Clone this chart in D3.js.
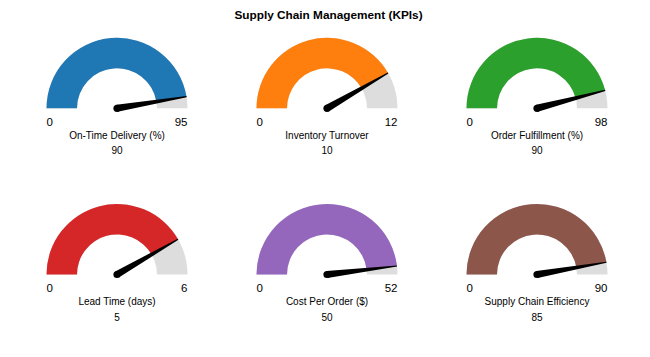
<!DOCTYPE html>
<html>
<head>
<meta charset="utf-8">
<script src="https://cdn.jsdelivr.net/npm/d3@7"></script>
<style>
  html, body { margin: 0; padding: 0; background: #fff; }
  svg { display: block; font-family: "Liberation Sans", Arial, sans-serif; }
</style>
</head>
<body>
<svg id="chart" width="650" height="357"></svg>
<script>
const kpiNames = ["On-Time Delivery (%)", "Inventory Turnover", "Order Fulfillment (%)",
                  "Lead Time (days)", "Cost Per Order ($)", "Supply Chain Efficiency"];
const kpiValues = [90, 10, 90, 5, 50, 85];
const kpiMax = [95, 12, 98, 6, 52, 90];
const kpiMin = [0, 0, 0, 0, 0, 0];

const svg = d3.select("#chart");
const color = d3.scaleOrdinal().domain(d3.range(6)).range(d3.schemeCategory10);

svg.append("text")
  .attr("x", 328.5).attr("y", 19)
  .attr("text-anchor", "middle")
  .attr("font-size", 11.8).attr("font-weight", "bold")
  .attr("fill", "#000")
  .text("Supply Chain Management (KPIs)");

const colX = d3.scalePoint().domain([0, 1, 2]).range([117, 537]);
const rowY = d3.scalePoint().domain([0, 1]).range([108.3, 274.5]);
const rOuter = 70.5, rInner = 40;

kpiNames.forEach((name, i) => {
  const cx = colX(i % 3), cy = rowY(Math.floor(i / 3));
  const ang = d3.scaleLinear().domain([kpiMin[i], kpiMax[i]]).range([-Math.PI / 2, Math.PI / 2]);
  const g = svg.append("g").attr("transform", `translate(${cx},${cy})`);
  const arc = d3.arc().innerRadius(rInner).outerRadius(rOuter);

  g.append("path")
    .attr("d", arc({ startAngle: ang(kpiMin[i]), endAngle: ang(kpiMax[i]) }))
    .attr("fill", "#dddddd");
  g.append("path")
    .attr("d", arc({ startAngle: ang(kpiMin[i]), endAngle: ang(kpiValues[i]) }))
    .attr("fill", color(i));

  // needle
  const a = ang(kpiValues[i]);
  const dx = Math.sin(a), dy = -Math.cos(a);
  const px = -dy, py = dx;
  const L = rOuter, bw = 3.6, tw = 0.6;
  const pts = [
    [px * bw, py * bw],
    [dx * L + px * tw, dy * L + py * tw],
    [dx * L - px * tw, dy * L - py * tw],
    [-px * bw, -py * bw]
  ];
  g.append("path").attr("d", d3.line()(pts) + "Z").attr("fill", "#000");
  g.append("circle").attr("r", bw).attr("fill", "#000");

  g.append("text").attr("x", -rOuter).attr("y", 17.5)
    .attr("text-anchor", "start").attr("font-size", 11.5).attr("fill", "#000")
    .text(kpiMin[i]);
  g.append("text").attr("x", rOuter).attr("y", 17.5)
    .attr("text-anchor", "end").attr("font-size", 11.5).attr("fill", "#000")
    .text(kpiMax[i]);
  g.append("text").attr("x", 0).attr("y", 30.5)
    .attr("text-anchor", "middle").attr("font-size", 10).attr("fill", "#000")
    .text(name);
  g.append("text").attr("x", 0).attr("y", 46)
    .attr("text-anchor", "middle").attr("font-size", 10).attr("fill", "#000")
    .text(kpiValues[i]);
});
</script>
</body>
</html>
